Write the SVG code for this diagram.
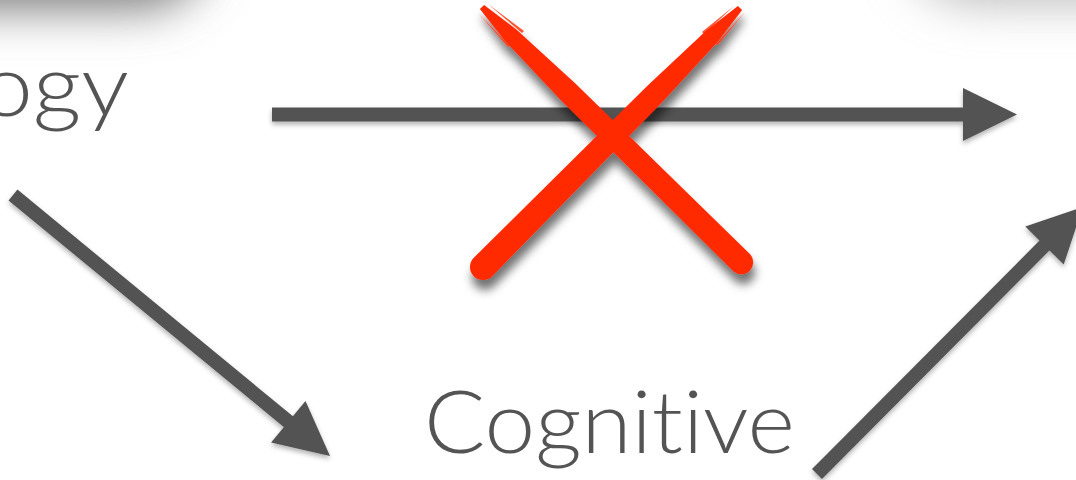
<svg xmlns="http://www.w3.org/2000/svg" width="1076" height="480" viewBox="0 0 1076 480">
  <defs>
    <style>
      .lbl { font-family: "Lato", "Open Sans", "Liberation Sans", sans-serif; font-weight: 300; font-size: 86px; fill: #545454; font-variant-ligatures: none; font-feature-settings: "liga" 0, "clig" 0; }
      .shaft { stroke: #525252; stroke-width: 14; fill: none; stroke-linecap: butt; }
      .head { fill: #525252; }
      .brush { fill: #ff2a05; }
    </style>
    <filter id="blurBig" x="-50%" y="-50%" width="200%" height="200%">
      <feGaussianBlur stdDeviation="24"/>
    </filter>
    <filter id="arrowShadow" x="-10%" y="-10%" width="120%" height="130%">
      <feDropShadow dx="0" dy="3" stdDeviation="2.5" flood-color="#000" flood-opacity="0.3"/>
    </filter>
    <filter id="xShadow" x="-20%" y="-20%" width="140%" height="140%">
      <feDropShadow dx="2" dy="10" stdDeviation="5" flood-color="#000" flood-opacity="0.55"/>
    </filter>
  </defs>

  <rect width="1076" height="480" fill="#ffffff"/>

  <!-- shadows of boxes above the visible area -->
  <g id="shadow-top-left">
    <rect x="-320" y="-230" width="530" height="238" rx="70" fill="#767676" filter="url(#blurBig)"/>
  </g>
  <g id="shadow-top-right">
    <rect x="905" y="-220" width="420" height="222" rx="70" fill="#b8b8b8" filter="url(#blurBig)"/>
  </g>

  <!-- nodes -->
  <g id="node-technology">
    <text class="lbl" x="-20" y="116" textLength="149" lengthAdjust="spacingAndGlyphs">ogy</text>
  </g>
  <g id="node-cognitive">
    <text class="lbl" x="424" y="453" textLength="371" lengthAdjust="spacingAndGlyphs">Cognitive</text>
  </g>

  <!-- connectors -->
  <g id="connectors" filter="url(#arrowShadow)">
    <g id="edge-technology-right">
      <line class="shaft" x1="272" y1="114.5" x2="965" y2="114.5"/>
      <polygon class="head" points="963,88 1017,114.5 963,141"/>
    </g>
    <g id="edge-technology-cognitive">
      <line class="shaft" x1="13" y1="195" x2="290" y2="423"/>
      <polygon class="head" points="271.1,442.5 330,456 305.5,400.9"/>
    </g>
    <g id="edge-cognitive-right">
      <line class="shaft" x1="817" y1="474" x2="1046" y2="244"/>
      <polygon class="head" points="1025.3,226.4 1082.8,207.1 1063.7,264.6"/>
    </g>
  </g>

  <!-- red cross over the direct connector -->
  <g id="cross" filter="url(#xShadow)">
    <path class="brush" d="M 737.9,5.9 L 706.1,30.8 L 647.7,85.5 L 473.8,257.8 A 13 13 0 0 0 492.2,276.2 L 663.3,100.9 L 717.5,42.0 L 742.1,10.1 Z"/>
    <path class="brush" d="M 734,6 L 702,32 L 704,34 Z" opacity="0.8"/>
    <path class="brush" d="M 745,12 L 716,44 L 718,45 Z" opacity="0.7"/>
    <path class="brush" d="M 484.1,4.9 L 516.1,29.3 L 575.1,83.3 L 750.4,254.5 A 12 12 0 0 1 733.6,271.5 L 559.7,98.9 L 504.9,40.7 L 479.9,9.1 Z"/>
    <path class="brush" d="M 488,4 L 524,31 L 522,33 Z" opacity="0.8"/>
    <path class="brush" d="M 478,13 L 510,46 L 508,47 Z" opacity="0.7"/>
  </g>
</svg>
